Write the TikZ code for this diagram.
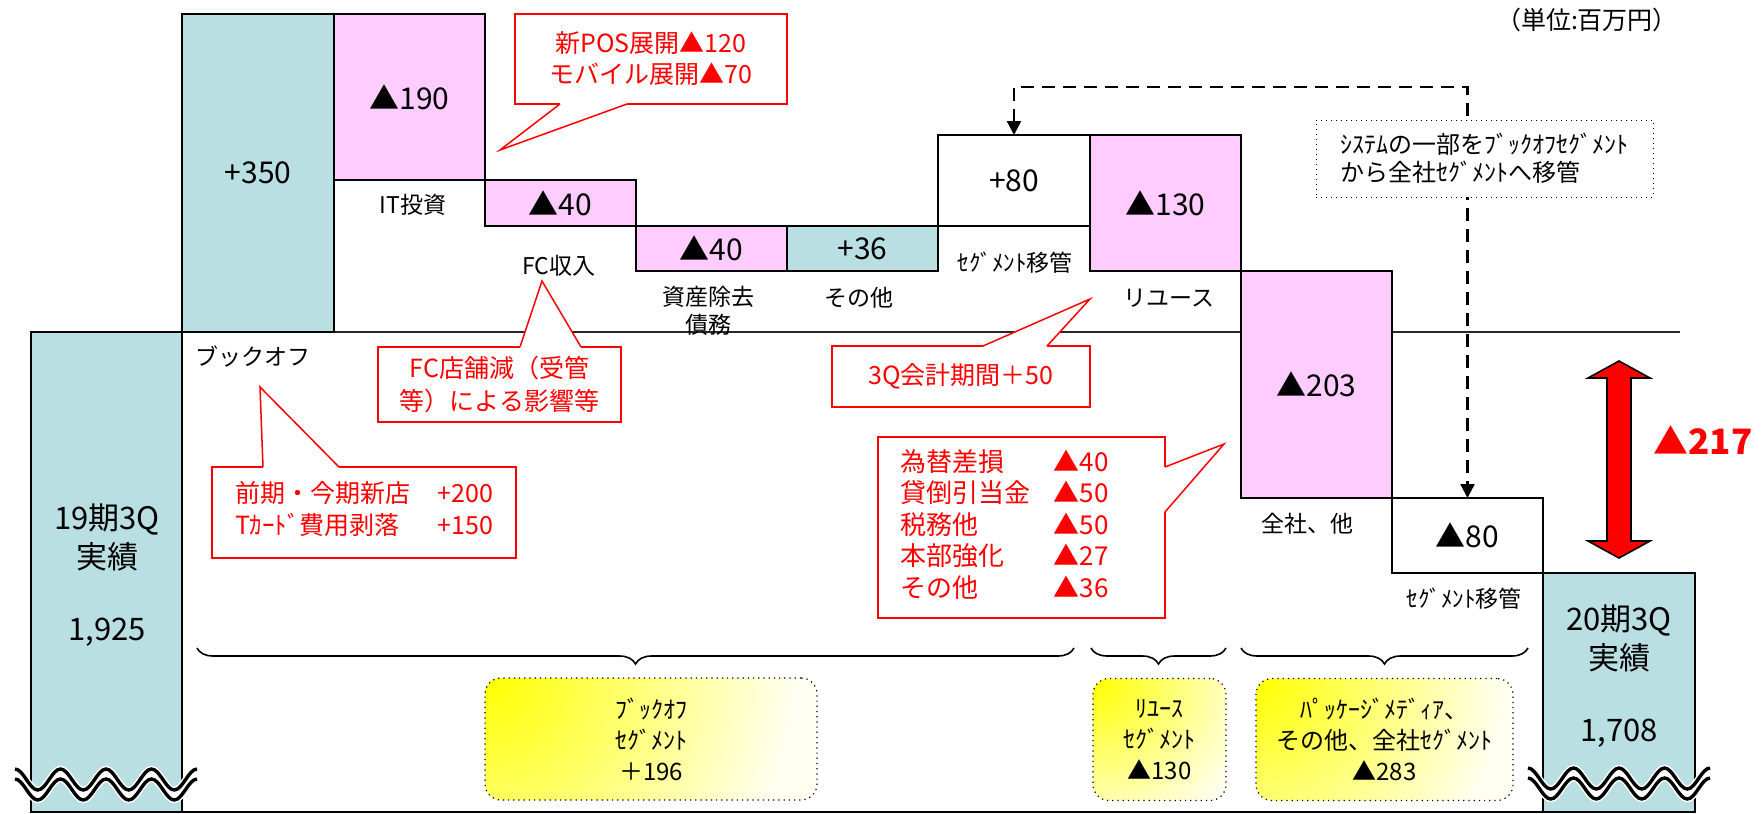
\documentclass[tikz,border=0pt]{standalone}
\usepackage{fontspec}
\setmainfont{Noto Sans CJK JP}
\usetikzlibrary{decorations.pathreplacing,fit,calc,arrows.meta}
\definecolor{tealc}{RGB}{185,223,227}
\definecolor{pinkc}{RGB}{255,204,255}
\definecolor{redc}{RGB}{255,0,0}
\definecolor{yelA}{RGB}{255,255,0}
\definecolor{yelB}{RGB}{255,255,242}
\newcommand\fsz[2]{\fontsize{#1}{#2}\selectfont}
\newcommand\wavebrk[2]{%
  \begin{scope}[shift={(#1,#2)}]
    \fill[white] (0,0)
      \foreach \k in {1,...,4}{ cos ++(11.375,10.5) sin ++(11.375,10.5) cos ++(11.375,-10.5) sin ++(11.375,-10.5) }
      -- (182,10)
      \foreach \k in {1,...,4}{ cos ++(-11.375,10.5) sin ++(-11.375,10.5) cos ++(-11.375,-10.5) sin ++(-11.375,-10.5) }
      -- cycle;
    \foreach \yy in {0,10}{
      \draw[white, line width=3.2pt] (0,\yy)
        \foreach \k in {1,...,4}{ cos ++(11.375,10.5) sin ++(11.375,10.5) cos ++(11.375,-10.5) sin ++(11.375,-10.5) };
      \draw[black, line width=1.7pt] (0,\yy)
        \foreach \k in {1,...,4}{ cos ++(11.375,10.5) sin ++(11.375,10.5) cos ++(11.375,-10.5) sin ++(11.375,-10.5) };
    }
  \end{scope}}
\newcommand\ptrdraw[4]{%
  \fill[white] ($(#1)+#4$) -- (#1) -- (#3) -- (#2) -- ($(#2)+#4$) -- cycle;
  \draw[ptr] (#1) -- (#3) -- (#2);}
\begin{document}
\begin{tikzpicture}[x=0.5pt,y=-0.5pt,
  barbox/.style={draw=black, line width=1pt, inner sep=0pt, outer sep=0pt},
  tealbar/.style={barbox, fill=tealc},
  pinkbar/.style={barbox, fill=pinkc},
  whitebar/.style={barbox, fill=white},
  barlbl/.style={font=\fsz{15}{18}, inner sep=0pt},
  catlbl/.style={font=\fsz{11.5}{14}, inner sep=0pt, align=center},
  calbox/.style={draw=redc, line width=0.75pt, fill=white, text=redc, inner sep=0pt, outer sep=0pt, align=center, font=\fsz{12.5}{15.5}},
  ptr/.style={draw=redc, line width=0.75pt},
  segbox/.style={draw=black, dotted, line width=0.6pt, rounded corners=8pt, inner sep=0pt, font=\fsz{12}{15.5}, align=center},
  segshade/.style={path picture={\fill[yelB] (path picture bounding box.north west) rectangle (path picture bounding box.south east); \shade[inner color=yelA, outer color=yelB] (path picture bounding box.north west) circle (#1);}},
  bracestyle/.style={decorate, decoration={brace, mirror, amplitude=8pt}, line width=0.8pt},
  dashconn/.style={dash pattern=on 6.5pt off 4pt, line width=1.2pt, {Triangle[length=7pt,width=7pt]}-{Triangle[length=7pt,width=7pt]}},
]
\useasboundingbox (0,0) rectangle (1762,814);
% base line
\coordinate (bstart) at (31,332);
\coordinate (bend) at (1680,332);
\draw[line width=0.7pt, black!85] (bstart) -- (bend);
% bars
\node[tealbar, fit={(31,332) (182,812)}] (b19) {};
\node[tealbar, fit={(182,14) (334,332)}] (bbo) {};
\node[pinkbar, fit={(334,14) (485,180)}] (bit) {};
\node[pinkbar, fit={(485,180) (636,226)}] (bfc) {};
\node[pinkbar, fit={(636,226) (787,271)}] (bas) {};
\node[tealbar, fit={(787,226) (938,271)}] (bot) {};
\node[whitebar, fit={(938,135) (1090,226)}] (bsg) {};
\node[pinkbar, fit={(1090,135) (1241,271)}] (bru) {};
\node[pinkbar, fit={(1241,271) (1392,498)}] (bcp) {};
\node[whitebar, fit={(1392,498) (1543,573)}] (bsg2) {};
\node[tealbar, fit={(1543,573) (1695,812)}] (b20) {};
\draw[line width=1pt] (b19.south west) -- (b20.south east);
% bar values
\node[barlbl] (vbo) at (bbo.center) {+350};
\node[barlbl] (vit) at (bit.center) {▲190};
\node[barlbl] (vfc) at (bfc.center) {▲40};
\node[barlbl] (vas) at (bas.center) {▲40};
\node[barlbl] (vot) at (bot.center) {+36};
\node[barlbl] (vsg) at (bsg.center) {+80};
\node[barlbl] (vru) at (bru.center) {▲130};
\node[barlbl] (vcp) at (bcp.center) {▲203};
\node[barlbl] (vsg2) at (bsg2.center) {▲80};
% start / end labels
\node[font=\fsz{15.5}{19.5}, align=center, inner sep=0pt] (t19a) at (107,537.5) {19期3Q\\実績};
\node[font=\fsz{15.5}{19.5}, inner sep=0pt] (t19b) at (107,632) {1,925};
\node[font=\fsz{15.5}{19.5}, align=center, inner sep=0pt] (t20a) at (1619,638.5) {20期3Q\\実績};
\node[font=\fsz{15.5}{19.5}, inner sep=0pt] (t20b) at (1619,733) {1,708};
% wave breaks
\wavebrk{15}{769}
\wavebrk{1528}{768}
% category labels
\node[catlbl] (lit) at (413,205) {IT投資};
\node[catlbl] (lfc) at (559,266) {FC収入};
\node[catlbl] (las) at (708,311) {資産除去\\債務};
\node[catlbl] (lot) at (859,298) {その他};
\node[catlbl] (lsg) at (1015,263) {ｾｸﾞﾒﾝﾄ移管};
\node[catlbl] (lru) at (1169,298) {リユース};
\node[catlbl] (lbo) at (253,357) {ブックオフ};
\node[catlbl] (lcp) at (1307,524) {全社、他};
\node[catlbl] (lsg2) at (1464,599) {ｾｸﾞﾒﾝﾄ移管};
% unit
\node[font=\fsz{12.5}{14}, inner sep=0pt] (unit) at (1587,20) {（単位:百万円）};
% dashed transfer connector
\coordinate (dtop) at (1240,87);
\draw[dashconn] (bsg.north) |- (dtop) -| (bsg2.north);
\node[draw=black, dotted, line width=0.5pt, fill=white, minimum width=168.5pt, minimum height=38.5pt, inner sep=0pt, font=\fsz{12}{14}, align=left] (note) at (1484.5,158.5) {ｼｽﾃﾑの一部をﾌﾞｯｸｵﾌｾｸﾞﾒﾝﾄ\\から全社ｾｸﾞﾒﾝﾄへ移管};
% red double arrow
\filldraw[fill=redc, draw=black, line width=0.8pt] (1619,361) -- (1650,378) -- (1631,378) -- (1631,541) -- (1650,541) -- (1619,558) -- (1588,541) -- (1607,541) -- (1607,378) -- (1588,378) -- cycle;
\node[text=redc, font=\bfseries\fsz{17.5}{20}, inner sep=0pt] (l217) at (1703,440) {▲217};
% callout 1
\node[calbox, minimum width=136pt, minimum height=45pt] (c1) at (651,59) {新POS展開▲120\\モバイル展開▲70};
\coordinate (c1a) at ($(c1.south west)+(45,0)$);
\coordinate (c1b) at ($(c1.south west)+(112,0)$);
\coordinate (c1t) at (500,150);
\ptrdraw{c1a}{c1b}{c1t}{(0,-3)}
% callout 2
\node[calbox, minimum width=121.5pt, minimum height=37.5pt, font=\fsz{12.5}{16.5}] (c2) at (499.5,384.5) {FC店舗減（受管\\等）による影響等};
\coordinate (c2a) at ($(c2.north west)+(142,0)$);
\coordinate (c2b) at ($(c2.north west)+(203,0)$);
\coordinate (c2t) at (542,281);
\ptrdraw{c2a}{c2b}{c2t}{(0,3)}
% callout 3
\node[calbox, minimum width=152pt, minimum height=45.5pt, font=\fsz{12.5}{16}] (c3) at (364,512.5) {\begin{tabular}{@{}l@{\hspace{1.1em}}r@{}}前期・今期新店 & +200\\Tｶｰﾄﾞ費用剥落 & +150\end{tabular}};
\coordinate (c3a) at ($(c3.north west)+(51,0)$);
\coordinate (c3b) at ($(c3.north west)+(127,0)$);
\coordinate (c3t) at (260,387);
\ptrdraw{c3a}{c3b}{c3t}{(0,3)}
% callout 4
\node[calbox, minimum width=129pt, minimum height=30.5pt] (c4) at (961,376.5) {3Q会計期間＋50};
\coordinate (c4a) at ($(c4.north west)+(151,0)$);
\coordinate (c4b) at ($(c4.north west)+(215,0)$);
\coordinate (c4t) at (1090,299);
\ptrdraw{c4a}{c4b}{c4t}{(0,3)}
% callout 5
\node[calbox, minimum width=143.5pt, minimum height=90.5pt] (c5) at (1021.5,527.5) {};
\node[anchor=west, text=redc, inner sep=0pt, font=\fsz{13}{15.75}] (c5t) at (900,528) {\begin{tabular}{@{}l@{\hspace{0.9em}}l@{}}為替差損 & ▲40\\貸倒引当金 & ▲50\\税務他 & ▲50\\本部強化 & ▲27\\その他 & ▲36\end{tabular}};
\coordinate (c5a) at ($(c5.north east)+(0,30)$);
\coordinate (c5b) at ($(c5.north east)+(0,75)$);
\coordinate (c5t2) at (1224,444);
\ptrdraw{c5a}{c5b}{c5t2}{(-3,0)}
% braces
\draw[bracestyle] (197,648) -- (1074,648);
\draw[bracestyle] (1091,648) -- (1226,648);
\draw[bracestyle] (1241,648) -- (1528,648);
% segment boxes
\node[segbox, segshade=155pt, minimum width=166pt, minimum height=61pt] (sbo) at (651,739) {ﾌﾞｯｸｵﾌ\\ｾｸﾞﾒﾝﾄ\\＋196};
\node[segbox, segshade=85pt, minimum width=66.5pt, minimum height=61pt] (sru) at (1159.5,739.5) {ﾘﾕｰｽ\\ｾｸﾞﾒﾝﾄ\\▲130};
\node[segbox, segshade=125pt, minimum width=128.5pt, minimum height=61pt] (spk) at (1384.5,739.5) {ﾊﾟｯｹｰｼﾞﾒﾃﾞｨｱ、\\その他、全社ｾｸﾞﾒﾝﾄ\\▲283};
\end{tikzpicture}
\end{document}
